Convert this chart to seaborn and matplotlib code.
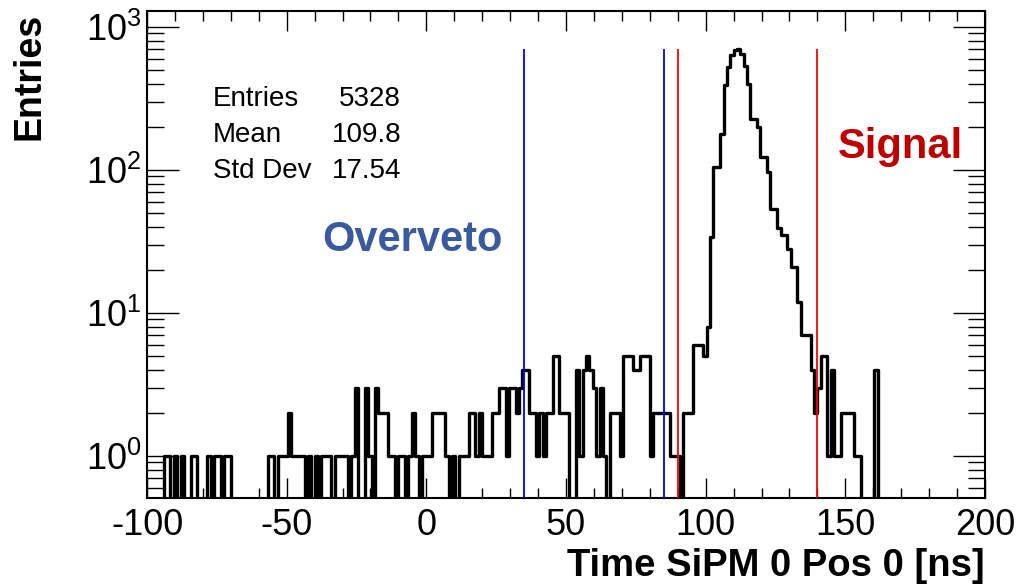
import numpy as np
import pandas as pd
import matplotlib
matplotlib.use("Agg")
import matplotlib.pyplot as plt
import seaborn as sns
from matplotlib.ticker import MultipleLocator, LogLocator, NullFormatter

# ---------------- data ----------------
# 250 bins of 1.2 ns from -100 to 200 ns
counts_left = [0, 0, 0, 0, 0, 1, 1, 0, 1, 0, 1, 0, 0, 1, 1, 0, 0, 0,
               1, 0, 1, 1, 0, 1, 1, 0, 0, 0, 0, 0, 0, 0, 0, 0, 0, 0,
               1, 1, 0, 1, 1, 1, 2, 1, 1, 1, 1, 0, 1, 0, 1, 0, 1, 1,
               1, 0, 1, 1, 1, 1, 0, 1,
               3, 0, 0, 3, 1, 0, 3, 2, 2, 2, 1, 1, 0, 1, 1, 0, 1, 2,
               1, 0, 1, 1, 1, 2, 2, 2, 2, 1, 0, 1, 0, 1, 1, 1, 2, 2,
               1, 2, 1, 1, 1, 2, 2, 3, 3, 1, 3, 3, 2, 3, 4, 4, 2, 2,
               1, 2, 1, 2, 2, 5, 5, 2, 2, 2, 0, 0, 4, 1, 4, 5, 4, 3,
               1, 3, 1, 0, 2, 2, 2, 1, 5, 5, 5, 4, 4, 5, 5, 5, 1, 2,
               2, 2, 2, 2, 1, 1, 1, 0, 2, 2, 2, 6, 6, 6, 5]
counts_peak = [8, 34, 104, 104, 177, 389, 522, 631, 690, 700, 646, 535,
               401, 227, 227, 198, 123, 123, 96, 53, 53, 39, 35, 35, 28,
               21, 21, 12, 7, 7, 7]
counts_tail = [4, 2, 3, 5, 5, 1, 4, 1, 1, 2, 2, 2, 2, 1, 1, 0, 0, 0, 0, 4] + [0] * 32

counts = np.array(counts_left + counts_peak + counts_tail, dtype=float)
x_range = (-100, 200)
n_bins = len(counts)
edges = np.linspace(x_range[0], x_range[1], n_bins + 1)
centers = 0.5 * (edges[:-1] + edges[1:])
df = pd.DataFrame({"t": centers, "n": counts})

overveto_cuts = [35, 85]
signal_cuts = [90, 140]
stats_names = ["Entries", "Mean", "Std Dev"]
stats_values = ["5328", "109.8", "17.54"]

# ---------------- style ----------------
sns.set_theme(style="white")
plt.rcParams["font.family"] = ["Liberation Sans", "DejaVu Sans"]
plt.rcParams["mathtext.fontset"] = "custom"
plt.rcParams["mathtext.rm"] = "Liberation Sans"
plt.rcParams["mathtext.it"] = "Liberation Sans:italic"
plt.rcParams["mathtext.bf"] = "Liberation Sans:bold"
plt.rcParams["axes.unicode_minus"] = False

W, H = 1022, 585
fig = plt.figure(figsize=(W / 100, H / 100), dpi=100)
L, R, T, B = 147, 985, 11, 498
ax = fig.add_axes([L / W, 1 - B / H, (R - L) / W, (B - T) / H])

sns.histplot(data=df, x="t", weights="n", bins=n_bins, binrange=x_range,
             element="step", fill=False, color="black", linewidth=2.4, ax=ax)
ax.set_yscale("log")
ax.set_xlim(*x_range)
ax.set_ylim(0.508, 1290)

ymax_line = counts.max()
ax.vlines(overveto_cuts, 0.508, ymax_line, colors="#0000ff", linewidth=1.3, zorder=5)
ax.vlines(signal_cuts, 0.508, ymax_line, colors="#ff0000", linewidth=1.3, zorder=5)

ax.set_xlabel("")
ax.set_ylabel("")
for s in ax.spines.values():
    s.set_linewidth(1.5)
    s.set_color("black")

ax.xaxis.set_major_locator(MultipleLocator(50))
ax.xaxis.set_minor_locator(MultipleLocator(10))
ax.yaxis.set_major_locator(LogLocator(base=10, numticks=10))
ax.yaxis.set_minor_locator(LogLocator(base=10, subs=np.arange(2, 10), numticks=20))
ax.yaxis.set_minor_formatter(NullFormatter())
ax.tick_params(axis="both", which="both", direction="in",
               bottom=True, left=True, top=True, right=True,
               colors="black", width=1.0, labelsize=26)
ax.tick_params(axis="x", which="major", length=14.5, pad=7)
ax.tick_params(axis="x", which="minor", length=7.2)
ax.tick_params(axis="y", which="major", length=23, pad=4)
ax.tick_params(axis="y", which="minor", length=12)

# stats
rows_y = [99, 135, 171]
for name, val, yy in zip(stats_names, stats_values, rows_y):
    fig.text(213 / W, 1 - yy / H, name, ha="left", va="center", fontsize=20, color="black")
    fig.text(401 / W, 1 - yy / H, val, ha="right", va="center", fontsize=20, color="black")

fig.text(412 / W, 1 - 240 / H, "Overveto", ha="center", va="center",
         fontsize=30, fontweight="bold", color="#3a5aa0")
fig.text(900 / W, 1 - 147 / H, "Signal", ha="center", va="center",
         fontsize=30, fontweight="bold", color="#c00000")

fig.text(30 / W, 1 - 13 / H, "Entries", rotation=90, ha="center", va="top",
         fontsize=27, fontweight="bold", color="black")
fig.text(985 / W, 1 - 576 / H, "Time SiPM 0 Pos 0 [ns]", ha="right", va="baseline",
         fontsize=27.5, fontweight="bold", color="black")

fig.savefig("out.png", dpi=100, facecolor="white")
